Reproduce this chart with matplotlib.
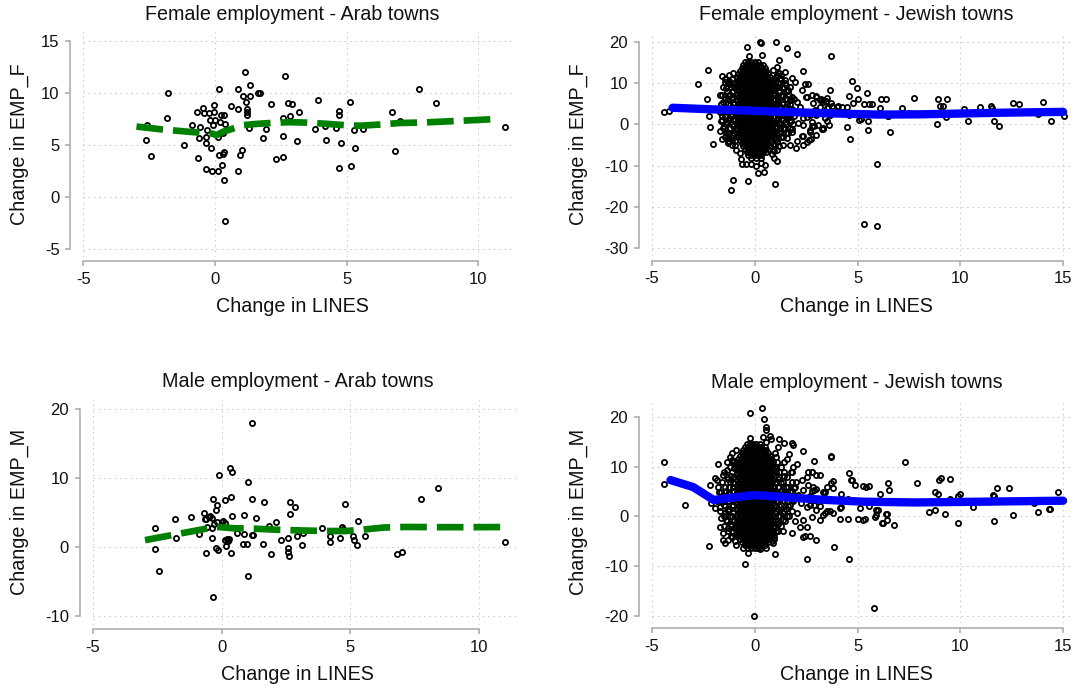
import matplotlib
matplotlib.use("Agg")
import matplotlib.pyplot as plt

plt.rcParams["font.family"] = ["Liberation Sans", "DejaVu Sans"]
plt.rcParams["axes.unicode_minus"] = False

W, H = 1076, 689

# ---- Arab towns: (change in LINES, change in EMP) ----
female_arab = [
    (-2.57, 6.95), (-2.62, 5.47), (-2.42, 3.92), (-1.77, 9.97), (-1.82, 7.65),
    (-1.18, 5.05), (-0.89, 6.95), (-0.68, 8.23), (-0.63, 3.73), (-0.59, 5.63),
    (-0.57, 6.69), (-0.44, 8.58), (-0.43, 8.04), (-0.34, 5.79), (-0.34, 5.21),
    (-0.33, 2.67), (-0.29, 6.43), (-0.23, 8.13), (-0.19, 7.46), (-0.16, 4.69),
    (-0.10, 2.50), (-0.08, 6.95), (-0.03, 8.84), (-0.03, 8.20), (0.01, 7.40),
    (0.10, 5.79), (0.10, 2.50), (0.14, 4.08), (0.15, 10.45), (0.18, 7.20),
    (0.22, 7.85), (0.25, 3.05), (0.29, 6.17), (0.29, 4.18), (0.33, 4.30),
    (0.35, 7.88), (0.35, 1.61), (0.38, 6.98), (0.38, -2.31), (0.62, 8.75),
    (0.86, 8.49), (0.87, 10.45), (0.89, 2.48), (0.96, 3.99), (1.04, 4.50),
    (1.05, 9.71), (1.14, 12.00), (1.18, 9.16), (1.20, 8.50), (1.22, 8.20),
    (1.20, 7.90), (1.30, 6.62), (1.35, 10.77), (1.35, 9.74), (1.65, 9.97),
    (1.70, 9.97), (1.82, 5.72), (1.92, 6.53), (2.11, 8.94), (2.30, 3.63),
    (2.57, 7.65), (2.57, 5.88), (2.59, 3.86), (2.67, 11.70), (2.78, 9.07),
    (2.85, 7.78), (2.92, 8.94), (3.13, 5.43), (3.19, 8.20), (3.81, 6.56),
    (3.92, 9.36), (4.19, 6.85), (4.22, 5.53), (4.61, 6.66), (4.70, 8.30),
    (4.73, 7.91), (4.73, 2.80), (4.80, 5.21), (5.13, 9.13), (5.15, 3.02),
    (5.29, 6.43), (5.32, 4.73), (5.61, 6.56), (6.71, 8.17), (6.84, 4.41),
    (7.03, 7.33), (7.76, 10.45), (8.41, 9.10), (11.03, 6.71),
]
female_arab_fit_x = [-2.98, -2.0, -1.0, -0.4, -0.1, 0.06, 0.3, 0.7, 1.1, 1.5, 2.2,
                     2.8, 3.5, 4.2, 5.0, 5.5, 6.3, 7.0, 8.0, 9.0, 10.0, 10.8]
female_arab_fit_y = [6.78, 6.5, 6.28, 6.15, 6.1, 5.95, 6.27, 6.6, 6.92, 7.02, 7.14,
                     7.2, 7.16, 7.05, 6.9, 6.86, 6.98, 7.12, 7.18, 7.3, 7.42, 7.52]

male_arab = [
    (-2.60, 2.76), (-2.57, -0.34), (-2.43, -3.48), (-1.82, 4.06), (-1.77, 1.35),
    (-1.18, 4.26), (-0.89, 1.79), (-0.69, 4.93), (-0.65, 3.97), (-0.61, -0.97),
    (-0.59, 4.03), (-0.55, 2.90), (-0.50, 4.35), (-0.44, 4.47), (-0.39, 4.17),
    (-0.36, 2.77), (-0.36, 1.21), (-0.35, 6.87), (-0.35, -7.35), (-0.28, 3.30),
    (-0.23, 5.32), (-0.19, 6.05), (-0.19, 3.63), (-0.22, -0.15), (-0.13, -0.53),
    (-0.09, 10.35), (0.00, 3.60), (0.06, 3.73), (0.12, 3.40), (0.14, 6.77),
    (0.15, 1.00), (0.18, 0.10), (0.22, 1.20), (0.25, 0.80), (0.30, 1.10),
    (0.34, 11.37), (0.35, -0.97), (0.36, 7.21), (0.39, 10.79), (0.39, 4.45),
    (0.61, 1.94), (0.85, 4.60), (0.87, 1.79), (0.97, 0.34), (0.84, 0.34),
    (1.02, 9.34), (1.03, -4.26), (1.18, 6.92), (1.19, 17.95), (1.19, 1.69),
    (1.23, 1.65), (1.33, 4.11), (1.62, 0.48), (1.65, 6.53), (1.82, 3.05),
    (1.91, -1.06), (2.11, 3.63), (2.29, 0.97), (2.56, 1.21), (2.56, -0.24),
    (2.59, -0.73), (2.60, -1.31), (2.65, 6.53), (2.65, 4.69), (2.83, 5.76),
    (2.92, 1.55), (2.96, 2.43), (3.10, 0.24), (3.17, 1.94), (3.88, 2.66),
    (4.19, 1.55), (4.20, 0.68), (4.59, 1.35), (4.68, 2.85), (4.70, 2.60),
    (4.77, 6.19), (5.11, 1.55), (5.13, 0.97), (5.27, 0.24), (5.31, 3.73),
    (5.58, 1.60), (6.79, -1.11), (7.00, -0.68), (7.73, 6.97), (8.38, 8.51),
    (11.00, 0.73),
]
male_arab_fit_x = [-2.97, -2.0, -1.0, -0.2, 0.5, 1.0, 2.0, 3.0, 4.0, 4.8, 5.5,
                   6.3, 7.2, 8.5, 10.0, 11.0]
male_arab_fit_y = [0.97, 1.65, 2.35, 2.9, 2.68, 2.68, 2.5, 2.38, 2.3, 2.28, 2.5,
                   2.8, 2.88, 2.85, 2.85, 2.87]

# ---- Jewish towns: packed centre as rows of (EMP change, [LINES changes]) ----
female_jewish_rows = [
    (15.0, [-0.48, -0.32, -0.16, 0.0, 0.16]),
    (14.3, [-0.56, -0.4, -0.24, -0.08, 0.08, 0.24, 0.4]),
    (13.6, [-0.64, -0.48, -0.32, -0.16, 0.0, 0.16, 0.32, 0.48]),
    (12.9, [-0.72, -0.56, -0.4, -0.24, -0.08, 0.08, 0.24, 0.4, 0.56]),
    (12.2, [-0.8, -0.64, -0.48, -0.32, -0.16, 0.0, 0.16, 0.32, 0.48, 0.64]),
    (11.5, [-0.88, -0.72, -0.56, -0.4, -0.24, -0.08, 0.08, 0.24, 0.4, 0.56, 0.72]),
    (10.8, [-0.8, -0.64, -0.48, -0.32, -0.16, 0.0, 0.16, 0.32, 0.48, 0.64, 0.8]),
    (10.1, [-0.88, -0.72, -0.56, -0.4, -0.24, -0.08, 0.08, 0.24, 0.4, 0.56, 0.72, 0.88]),
    (9.4, [-0.8, -0.64, -0.48, -0.32, -0.16, 0.0, 0.16, 0.32, 0.48, 0.64, 0.8]),
    (8.7, [-0.88, -0.72, -0.56, -0.4, -0.24, -0.08, 0.08, 0.24, 0.4, 0.56, 0.72, 0.88]),
    (8.0, [-0.8, -0.64, -0.48, -0.32, -0.16, 0.0, 0.16, 0.32, 0.48, 0.64, 0.8]),
    (7.3, [-0.88, -0.72, -0.56, -0.4, -0.24, -0.08, 0.08, 0.24, 0.4, 0.56, 0.72, 0.88]),
    (6.6, [-0.8, -0.64, -0.48, -0.32, -0.16, 0.0, 0.16, 0.32, 0.48, 0.64, 0.8]),
    (5.9, [-0.88, -0.72, -0.56, -0.4, -0.24, -0.08, 0.08, 0.24, 0.4, 0.56, 0.72, 0.88]),
    (5.2, [-0.8, -0.64, -0.48, -0.32, -0.16, 0.0, 0.16, 0.32, 0.48, 0.64, 0.8]),
    (4.5, [-0.88, -0.72, -0.56, -0.4, -0.24, -0.08, 0.08, 0.24, 0.4, 0.56, 0.72, 0.88]),
    (3.8, [-0.8, -0.64, -0.48, -0.32, -0.16, 0.0, 0.16, 0.32, 0.48, 0.64, 0.8]),
    (3.1, [-0.88, -0.72, -0.56, -0.4, -0.24, -0.08, 0.08, 0.24, 0.4, 0.56, 0.72, 0.88]),
    (2.4, [-0.8, -0.64, -0.48, -0.32, -0.16, 0.0, 0.16, 0.32, 0.48, 0.64, 0.8]),
    (1.7, [-0.88, -0.72, -0.56, -0.4, -0.24, -0.08, 0.08, 0.24, 0.4, 0.56, 0.72, 0.88]),
    (1.0, [-0.8, -0.64, -0.48, -0.32, -0.16, 0.0, 0.16, 0.32, 0.48, 0.64, 0.8]),
    (0.3, [-0.88, -0.72, -0.56, -0.4, -0.24, -0.08, 0.08, 0.24, 0.4, 0.56, 0.72, 0.88]),
    (-0.4, [-0.8, -0.64, -0.48, -0.32, -0.16, 0.0, 0.16, 0.32, 0.48, 0.64, 0.8]),
    (-1.1, [-0.88, -0.72, -0.56, -0.4, -0.24, -0.08, 0.08, 0.24, 0.4, 0.56, 0.72, 0.88]),
    (-1.8, [-0.8, -0.64, -0.48, -0.32, -0.16, 0.0, 0.16, 0.32, 0.48, 0.64, 0.8]),
    (-2.5, [-0.88, -0.72, -0.56, -0.4, -0.24, -0.08, 0.08, 0.24, 0.4, 0.56, 0.72, 0.88]),
    (-3.2, [-0.8, -0.64, -0.48, -0.32, -0.16, 0.0, 0.16, 0.32, 0.48, 0.64, 0.8]),
    (-3.9, [-0.72, -0.56, -0.4, -0.24, -0.08, 0.08, 0.24, 0.4, 0.56, 0.72]),
    (-4.6, [-0.64, -0.48, -0.32, -0.16, 0.0, 0.16, 0.32, 0.48, 0.64]),
    (-5.3, [-0.56, -0.4, -0.24, -0.08, 0.08, 0.24, 0.4, 0.56, 0.72]),
    (-6.0, [-0.48, -0.32, -0.16, 0.0, 0.16, 0.32, 0.48, 0.64]),
    (-6.7, [-0.4, -0.24, -0.08, 0.08, 0.24, 0.4, 0.56]),
    (-7.4, [-0.32, -0.16, 0.0, 0.16, 0.32]),
    (-8.1, [-0.16, 0.08, 0.32]),
    # looser band either side of the packed centre
    (12.0, [-1.25, 1.1]),
    (11.0, [-1.45, -1.1, 1.0, 1.3]),
    (10.0, [-1.3, -1.0, 1.15, 1.45]),
    (9.0, [-1.55, -1.15, 1.05, 1.35, 1.7]),
    (8.0, [-1.35, -1.05, 1.2, 1.5]),
    (7.0, [-1.6, -1.2, 1.0, 1.3, 1.65]),
    (6.0, [-1.45, -1.1, 1.15, 1.55, 1.9]),
    (5.0, [-1.65, -1.3, -1.0, 1.05, 1.35, 1.7]),
    (4.0, [-1.5, -1.15, 1.2, 1.5]),
    (3.0, [-1.7, -1.3, -1.0, 1.05, 1.4, 1.75]),
    (2.0, [-1.45, -1.15, 1.2, 1.55, 1.9]),
    (1.0, [-1.6, -1.25, -0.98, 1.05, 1.35, 1.7]),
    (0.0, [-1.4, -1.1, 1.2, 1.5, 1.85]),
    (-1.0, [-1.55, -1.2, 1.05, 1.35, 1.7]),
    (-2.0, [-1.3, -1.0, 1.2, 1.5]),
    (-3.0, [-1.45, -1.15, 1.05, 1.3]),
    (-4.0, [-1.25, -0.98, 1.1]),
    (-5.0, [-1.1, 1.0]),
]
female_jewish = [
    (-4.43, 2.9), (-4.18, 3.3), (-2.77, 9.8), (-2.27, 13.1), (-2.32, 6.0),
    (-2.22, 2.1), (-2.19, -0.7), (-2.02, -4.7), (-1.32, -4.6), (-1.28, -4.2),
    (-1.08, -13.4), (-1.16, -15.8), (-0.33, -13.8), (0.98, -14.5), (0.18, -11.8),
    (0.46, -11.5), (-0.45, -9.7), (-0.2, -9.5), (0.05, -10.0), (0.3, -9.4),
    (0.5, -9.8), (1.1, -9.0), (1.1, -6.2), (1.06, -4.2), (1.99, -5.7),
    (2.37, -4.9), (2.37, -2.9), (2.64, -3.9), (1.79, -1.2), (2.28, -2.8),
    (2.76, -0.5), (3.25, -1.2), (-0.4, 18.6), (0.25, 20.0), (0.28, 19.7),
    (1.02, 20.0), (1.55, 18.4), (2.04, 17.0), (1.16, 15.5), (0.35, 16.7),
    (-0.3, 16.5), (1.16, 12.3), (2.37, 13.0), (1.79, 11.2), (1.46, 10.8),
    (3.71, 16.5), (2.45, 9.7), (2.57, 9.7), (2.52, 6.7), (3.0, 6.5),
    (3.3, 5.9), (2.75, -3.55), (2.7, -1.5), (2.87, -0.5), (2.54, 1.7),
    (2.7, 2.3), (3.0, 6.8), (3.2, 6.0), (3.45, 5.6), (3.7, 5.2),
    (3.78, 4.5), (3.66, 8.2), (3.4, 1.5), (3.53, 0.7), (3.63, -0.2),
    (3.3, -0.9), (4.03, 4.4), (3.99, 4.3), (4.24, 4.3), (4.48, 4.2),
    (3.67, 2.2), (4.58, 6.95), (4.74, 10.6), (4.99, 8.8), (4.79, 5.2),
    (5.02, 6.1), (5.44, 7.5), (5.32, 5.0), (5.56, 4.8), (5.72, 4.8),
    (4.49, -0.7), (4.64, -3.5), (4.58, 2.3), (5.16, 1.3), (5.49, 0.7),
    (5.52, -1.5), (6.09, 4.0), (6.14, 6.0), (6.38, 6.0), (6.47, 2.1),
    (6.57, -1.9), (5.97, -9.6), (5.31, -24.1), (5.97, -24.7), (7.18, 4.0),
    (7.73, 6.4), (8.89, 6.2), (9.37, 6.1), (9.0, 4.5), (9.17, 4.4),
    (9.3, 1.8), (8.87, 0.15), (10.17, 3.6), (10.38, 0.7), (10.96, 4.2),
    (11.49, 4.5), (11.53, 4.0), (11.66, 0.9), (11.86, -0.3), (12.55, 5.2),
    (12.85, 4.8), (14.0, 5.3), (14.43, 0.7), (15.02, 1.9), (13.8, 2.4),
    (7.5, 2.8), (5.08, 1.0), (6.46, 2.0),
    (1.38, 8.7), (1.63, 8.3), (1.79, 6.7), (2.03, 5.5), (2.2, 4.3),
    (2.49, 6.5), (2.6, 3.06), (2.84, 5.1), (3.0, 2.2), (3.16, 4.3),
    (3.33, 5.5), (3.49, 3.9), (1.95, 3.06), (1.71, 1.8), (1.47, 0.6),
    (1.22, -1.0), (1.79, -1.8), (2.36, -0.2), (2.76, 0.6), (3.08, -0.2),
    (3.33, -1.1), (2.03, -4.0), (2.52, -4.2), (1.06, 5.5), (1.14, 2.2),
    (1.06, -2.6), (0.98, 9.5), (1.22, 11.1), (1.47, 12.7), (1.95, 10.3),
    (2.28, 8.3), (2.76, 7.1), (3.16, 5.9), (3.49, 6.3), (3.57, 4.3),
    (2.92, 3.5), (2.68, -1.8), (2.36, 1.4), (2.11, 0.2), (3.0, -2.6),
    (1.55, -3.4), (1.38, -5.0), (1.71, -5.0),
    (-1.6, 11.8), (-1.45, 10.2), (-1.2, 9.8), (-1.7, 7.2), (-1.25, 7.0),
    (-1.55, 5.3), (-1.2, 4.6), (-1.75, 4.0), (-1.3, 3.7), (-1.0, 3.5),
    (-1.6, 2.0), (-1.25, 1.6), (-1.05, 1.2), (-1.65, 0.9), (-1.5, -0.4),
    (-1.2, -0.8), (-1.7, -1.6), (-1.4, -2.2), (-1.05, -2.6), (-1.3, -3.3),
    (-1.6, -3.5), (-0.95, -4.9), (-0.9, -6.3), (-0.7, -6.9), (-0.65, -8.3),
    (-0.64, -9.5), (1.1, 13.8), (0.9, 13.2), (1.3, 11.9), (1.05, 11.5),
    (1.5, 9.5), (1.2, 9.0), (1.6, 8.0), (1.35, 6.9), (1.75, 5.9),
    (1.15, 5.6), (1.55, 4.8), (1.2, 3.3), (1.8, 3.6), (1.45, 2.0),
    (1.15, 1.6), (1.75, 0.8), (1.5, 0.1), (1.05, 0.2), (1.25, -0.9),
    (1.6, -2.0), (1.1, -2.4), (1.35, -3.2), (1.05, -3.6), (1.2, -5.3),
    (0.95, -6.4), (0.85, -7.2), (0.95, -8.2),
    (-1.05, 12.3), (-1.25, 10.5), (1.05, 10.5), (-1.4, 8.7), (-1.1, 7.8),
    (1.2, 7.8), (-1.3, 6.0), (1.45, 6.0), (-1.05, 5.1), (1.3, 4.2),
    (-1.5, 3.3), (-1.15, 2.4), (1.55, 2.4), (-1.35, 0.6), (1.2, 0.6),
    (-1.05, -0.3), (1.4, -1.2), (-1.25, -2.1), (-1.1, -3.9), (0.9, -4.8),
    (-1.0, 9.0), (-1.1, 6.5), (-0.98, -1.5), (1.0, 7.5), (1.02, -0.9),
]
female_jewish_fit_x = [-4.0, -2.0, 0.0, 2.0, 4.0, 6.0, 8.0, 10.0, 12.0, 15.0]
female_jewish_fit_y = [4.0, 3.6, 3.25, 2.9, 2.6, 2.35, 2.4, 2.6, 2.8, 3.0]

male_jewish_rows = [
    (14.6, [-0.4, -0.24, -0.08, 0.08, 0.24]),
    (14.0, [-0.48, -0.32, -0.16, 0.0, 0.16, 0.32, 0.48]),
    (13.4, [-0.56, -0.4, -0.24, -0.08, 0.08, 0.24, 0.4, 0.56]),
    (12.8, [-0.64, -0.48, -0.32, -0.16, 0.0, 0.16, 0.32, 0.48, 0.64]),
    (12.2, [-0.72, -0.56, -0.4, -0.24, -0.08, 0.08, 0.24, 0.4, 0.56, 0.72]),
    (11.6, [-0.8, -0.64, -0.48, -0.32, -0.16, 0.0, 0.16, 0.32, 0.48, 0.64, 0.8]),
    (11.0, [-0.88, -0.72, -0.56, -0.4, -0.24, -0.08, 0.08, 0.24, 0.4, 0.56, 0.72, 0.88]),
    (10.4, [-0.8, -0.64, -0.48, -0.32, -0.16, 0.0, 0.16, 0.32, 0.48, 0.64, 0.8]),
    (9.8, [-0.88, -0.72, -0.56, -0.4, -0.24, -0.08, 0.08, 0.24, 0.4, 0.56, 0.72, 0.88]),
    (9.2, [-0.8, -0.64, -0.48, -0.32, -0.16, 0.0, 0.16, 0.32, 0.48, 0.64, 0.8]),
    (8.6, [-0.88, -0.72, -0.56, -0.4, -0.24, -0.08, 0.08, 0.24, 0.4, 0.56, 0.72, 0.88]),
    (8.0, [-0.8, -0.64, -0.48, -0.32, -0.16, 0.0, 0.16, 0.32, 0.48, 0.64, 0.8]),
    (7.4, [-0.88, -0.72, -0.56, -0.4, -0.24, -0.08, 0.08, 0.24, 0.4, 0.56, 0.72, 0.88]),
    (6.8, [-0.8, -0.64, -0.48, -0.32, -0.16, 0.0, 0.16, 0.32, 0.48, 0.64, 0.8]),
    (6.2, [-0.88, -0.72, -0.56, -0.4, -0.24, -0.08, 0.08, 0.24, 0.4, 0.56, 0.72, 0.88]),
    (5.6, [-0.8, -0.64, -0.48, -0.32, -0.16, 0.0, 0.16, 0.32, 0.48, 0.64, 0.8]),
    (5.0, [-0.88, -0.72, -0.56, -0.4, -0.24, -0.08, 0.08, 0.24, 0.4, 0.56, 0.72, 0.88]),
    (4.4, [-0.8, -0.64, -0.48, -0.32, -0.16, 0.0, 0.16, 0.32, 0.48, 0.64, 0.8]),
    (3.8, [-0.88, -0.72, -0.56, -0.4, -0.24, -0.08, 0.08, 0.24, 0.4, 0.56, 0.72, 0.88]),
    (3.2, [-0.8, -0.64, -0.48, -0.32, -0.16, 0.0, 0.16, 0.32, 0.48, 0.64, 0.8]),
    (2.6, [-0.88, -0.72, -0.56, -0.4, -0.24, -0.08, 0.08, 0.24, 0.4, 0.56, 0.72, 0.88]),
    (2.0, [-0.8, -0.64, -0.48, -0.32, -0.16, 0.0, 0.16, 0.32, 0.48, 0.64, 0.8]),
    (1.4, [-0.88, -0.72, -0.56, -0.4, -0.24, -0.08, 0.08, 0.24, 0.4, 0.56, 0.72, 0.88]),
    (0.8, [-0.8, -0.64, -0.48, -0.32, -0.16, 0.0, 0.16, 0.32, 0.48, 0.64, 0.8]),
    (0.2, [-0.88, -0.72, -0.56, -0.4, -0.24, -0.08, 0.08, 0.24, 0.4, 0.56, 0.72, 0.88]),
    (-0.4, [-0.8, -0.64, -0.48, -0.32, -0.16, 0.0, 0.16, 0.32, 0.48, 0.64, 0.8]),
    (-1.0, [-0.88, -0.72, -0.56, -0.4, -0.24, -0.08, 0.08, 0.24, 0.4, 0.56, 0.72, 0.88]),
    (-1.6, [-0.8, -0.64, -0.48, -0.32, -0.16, 0.0, 0.16, 0.32, 0.48, 0.64, 0.8]),
    (-2.2, [-0.88, -0.72, -0.56, -0.4, -0.24, -0.08, 0.08, 0.24, 0.4, 0.56, 0.72, 0.88]),
    (-2.8, [-0.8, -0.64, -0.48, -0.32, -0.16, 0.0, 0.16, 0.32, 0.48, 0.64, 0.8]),
    (-3.4, [-0.88, -0.72, -0.56, -0.4, -0.24, -0.08, 0.08, 0.24, 0.4, 0.56, 0.72, 0.88]),
    (-4.0, [-0.8, -0.64, -0.48, -0.32, -0.16, 0.0, 0.16, 0.32, 0.48, 0.64, 0.8]),
    (-4.6, [-0.72, -0.56, -0.4, -0.24, -0.08, 0.08, 0.24, 0.4, 0.56, 0.72]),
    (-5.2, [-0.64, -0.48, -0.32, -0.16, 0.0, 0.16, 0.32, 0.48, 0.64]),
    (-5.8, [-0.48, -0.32, -0.16, 0.0, 0.16, 0.32, 0.48]),
    (-6.4, [-0.32, -0.16, 0.0, 0.16, 0.32]),
    # looser band either side of the packed centre
    (12.0, [-1.2, 1.05]),
    (11.0, [-1.35, -1.05, 1.1, 1.4]),
    (10.0, [-1.2, 1.0, 1.3]),
    (9.0, [-1.5, -1.1, 1.05, 1.4, 1.75]),
    (8.0, [-1.35, -1.0, 1.2, 1.55]),
    (7.0, [-1.6, -1.2, 1.05, 1.35, 1.8]),
    (6.0, [-1.45, -1.05, 1.2, 1.6, 1.95]),
    (5.0, [-1.65, -1.25, 1.1, 1.4, 1.8]),
    (4.0, [-1.4, -1.0, 1.2, 1.55, 1.9]),
    (3.0, [-1.7, -1.3, 1.05, 1.4, 1.85]),
    (2.0, [-1.45, -1.1, 1.2, 1.6]),
    (1.0, [-1.7, -1.3, 1.05, 1.4, 1.8]),
    (0.0, [-1.5, -1.1, 1.25, 1.65]),
    (-1.0, [-1.35, -1.0, 1.1, 1.45]),
    (-2.0, [-1.5, -1.15, 1.0, 1.3]),
    (-3.0, [-1.3, 1.05, 1.35]),
    (-4.0, [-1.15, 0.95]),
    (-5.0, [-0.95, 0.85]),
]
male_jewish = [
    (-4.42, 11.0), (-4.42, 6.5), (-3.4, 2.2), (-0.21, 20.7), (0.37, 21.7),
    (0.45, 19.5), (0.53, 18.0), (0.53, 17.4), (0.76, 16.2), (1.18, 15.5),
    (1.87, 14.4), (2.36, 13.2), (2.86, 11.1), (-1.77, 10.6), (-2.2, 6.4),
    (-1.93, 7.8), (-2.13, 2.6), (-2.22, -6.0), (-1.57, -4.8), (-0.47, -9.6),
    (-0.05, -20.0), (0.97, -7.5), (2.52, -2.1), (2.36, -4.1), (2.44, -3.9),
    (2.71, -4.0), (3.0, -4.8), (2.56, -8.5), (2.69, 2.3), (2.86, 2.3),
    (3.16, 2.1), (2.77, 5.2), (2.86, 5.4), (3.0, 5.6), (2.61, 9.0),
    (2.77, 9.0), (3.16, 8.3), (3.36, 4.6), (3.44, 5.0), (3.69, 12.0),
    (3.49, 1.1), (3.44, 0.6), (3.8, 0.6), (3.79, 5.8), (3.69, 6.8),
    (3.8, 7.1), (3.85, -6.1), (3.16, -0.7), (4.15, -0.6), (4.52, -0.6),
    (4.19, 4.5), (4.19, 1.8), (4.57, 8.7), (4.6, -8.6), (4.68, 7.3),
    (4.88, 6.3), (5.13, 1.6), (5.28, 6.1), (5.43, 6.0), (5.55, 6.2),
    (5.02, -0.6), (5.27, -0.7), (5.35, -0.6), (5.56, 2.1), (5.78, -18.4),
    (5.9, 1.3), (5.9, 0.3), (6.11, 4.4), (6.26, -1.4), (6.43, 0.4),
    (6.48, 6.8), (6.54, 5.3), (6.43, -0.7), (6.79, -1.7), (7.29, 11.0),
    (7.89, 6.8), (8.5, 0.9), (8.75, 1.3), (8.79, 5.0), (8.92, 4.5),
    (8.95, 7.3), (9.05, 7.8), (9.25, 0.4), (9.5, 7.5), (9.5, 3.4),
    (9.87, -1.3), (10.0, 4.5), (9.87, 4.0), (10.6, 1.9), (11.58, 4.3),
    (11.63, 4.0), (11.79, 5.8), (11.63, -0.9), (12.38, 5.8), (12.57, 0.3),
    (13.57, 2.6), (13.76, 0.9), (14.32, 1.5), (14.38, 1.5), (14.77, 5.0),
    (3.73, 12.1), (4.75, 7.4), (4.13, 1.6), (4.52, 3.4), (3.65, 1.1),
    (6.0, 1.3), (6.38, 0.5), (5.84, -0.1), (6.21, -1.4),
    (1.87, 10.0), (1.79, 9.0), (2.03, 10.6), (2.28, 7.3), (2.52, 8.0),
    (2.76, 9.0), (3.0, 8.3), (2.6, 6.3), (2.84, 6.0), (2.36, 5.3),
    (2.11, 4.3), (2.68, 4.0), (3.0, 3.3), (3.33, 5.0), (3.49, 6.0),
    (2.52, 1.9), (3.0, 1.3), (3.33, 0.3), (2.03, 0.6), (2.36, -0.7),
    (2.76, -0.1), (2.2, -2.1), (1.87, 3.3), (2.0, 7.0), (1.9, 5.8),
    (2.25, 2.7), (1.95, -1.0), (1.8, -3.3), (1.55, 11.5), (1.65, 12.5),
    (-0.24, 15.8), (0.41, 15.9), (0.57, 15.0), (0.81, 15.5), (-0.89, 13.3),
    (-1.13, 12.8), (0.97, 12.7), (1.13, 14.0), (1.41, 14.7), (1.79, 14.8),
    (-1.13, 11.3), (-1.37, 9.4), (-1.54, 8.3), (-1.86, 7.3), (-1.78, 6.0),
    (-1.54, 4.0), (-1.7, 1.95), (-1.94, 1.6), (-1.7, -2.1), (-1.62, -0.4),
    (-1.54, -3.4), (-1.29, -4.8), (-1.13, -4.1), (-1.45, -5.4), (-0.89, -5.8),
    (-0.56, -6.4), (-0.32, -7.3), (0.24, -6.6), (0.57, -6.4), (0.89, -5.4),
    (-1.75, 5.0), (-1.85, 3.0),
    (-1.0, 9.7), (1.05, 9.7), (1.2, 9.0), (-1.15, 8.2), (1.0, 8.2),
    (1.4, 8.2), (-1.3, 7.5), (1.15, 7.5), (-1.05, 6.7), (1.0, 6.7),
    (1.3, 6.7), (-1.25, 6.0), (1.15, 6.0), (1.5, 6.0), (-1.4, 5.2),
    (-1.05, 5.2), (1.0, 5.2), (1.3, 5.2), (1.7, 5.2), (-1.25, 4.5),
    (1.15, 4.5), (1.5, 4.5), (-1.4, 3.7), (-1.05, 3.7), (1.0, 3.7),
    (1.3, 3.7), (1.75, 3.7), (-1.25, 3.0), (1.15, 3.0), (1.55, 3.0),
    (-1.5, 2.2), (-1.05, 2.2), (1.0, 2.2), (1.3, 2.2), (1.7, 2.2),
    (-1.25, 1.5), (1.15, 1.5), (1.5, 1.5), (-1.45, 0.7), (-1.05, 0.7),
    (1.0, 0.7), (1.35, 0.7), (-1.2, 0.0), (1.15, 0.0), (1.55, 0.0),
    (-1.4, -0.8), (-1.0, -0.8), (1.0, -0.8), (1.35, -0.8), (-1.15, -1.5),
    (1.15, -1.5), (-1.3, -2.3), (-1.0, -2.3), (1.0, -2.3), (-1.1, -3.0),
    (1.15, -3.0), (-0.95, -3.8), (0.95, -4.5), (-1.0, 11.2),
]
male_jewish_fit_x = [-4.1, -3.0, -2.0, -1.0, 0.0, 1.0, 2.0, 3.5, 5.3, 7.8, 11.0, 15.0]
male_jewish_fit_y = [7.3, 5.9, 3.3, 3.8, 4.3, 4.0, 3.7, 3.3, 2.95, 2.8, 2.95, 3.15]


def unpack(points, rows=()):
    xs = [p[0] for p in points]
    ys = [p[1] for p in points]
    for y, row in rows:
        xs += row
        ys += [y] * len(row)
    return xs, ys


fig = plt.figure(figsize=(W / 100, H / 100), dpi=100)
GRAY = "#a8a8a8"


def add_panel(box, xlim, ylim, xticks, yticks):
    left, top, right, bottom = box
    ax = fig.add_axes([left / W, 1 - bottom / H, (right - left) / W, (bottom - top) / H])
    ax.set_xlim(*xlim)
    ax.set_ylim(*ylim)
    ax.set_xticks(xticks)
    ax.set_yticks(yticks)
    ax.grid(True, color="#c4c4c4", linestyle=(0, (1.2, 3.6)), linewidth=0.8)
    ax.set_axisbelow(True)
    for side in ("top", "right"):
        ax.spines[side].set_visible(False)
    ax.spines["left"].set_position(("outward", 9.3))
    ax.spines["bottom"].set_position(("outward", 3.3))
    ax.spines["left"].set_bounds(yticks[0], yticks[-1])
    ax.spines["bottom"].set_bounds(xticks[0], xticks[-1])
    for side in ("left", "bottom"):
        ax.spines[side].set_color(GRAY)
        ax.spines[side].set_linewidth(1.1)
    ax.tick_params(length=3.3, width=1.1, color=GRAY, labelsize=12,
                   labelcolor="#111111", pad=4.5)
    return ax


def scatter(ax, xs, ys):
    ax.plot(xs, ys, "o", linestyle="none", ms=3.7, mfc="none", mec="black",
            mew=1.3, zorder=2, clip_on=False)


def caption(x, y, s, rot=0):
    fig.text(x / W, 1 - y / H, s, ha="center", va="center", fontsize=14.2,
             rotation=rot, color="#111111")


green_dash = dict(color="#008000", lw=4.8, linestyle=(0, (4.0, 1.5)),
                  dash_capstyle="butt", zorder=3)
blue_line = dict(color="#0000ff", lw=6.0, solid_capstyle="round", zorder=3)

# Female employment - Arab towns
ax = add_panel((83.3, 32.3, 513.8, 256.7), (-5, 11.35), (-5.77, 15.87),
               [-5, 0, 5, 10], [-5, 0, 5, 10, 15])
scatter(ax, *unpack(female_arab))
ax.plot(female_arab_fit_x, female_arab_fit_y, **green_dash)
caption(292, 15, "Female employment - Arab towns")
caption(292, 306.7, "Change in LINES")
caption(19.7, 144.5, "Change in EMP_F", 90)

# Female employment - Jewish towns
ax = add_panel((652, 32.6, 1074, 256.0), (-5, 15.53), (-31.9, 22.2),
               [-5, 0, 5, 10, 15], [-30, -20, -10, 0, 10, 20])
scatter(ax, *unpack(female_jewish, female_jewish_rows))
ax.plot(female_jewish_fit_x, female_jewish_fit_y, **blue_line)
caption(856.5, 15, "Female employment - Jewish towns")
caption(856.5, 306.7, "Change in LINES")
caption(578.4, 144.3, "Change in EMP_F", 90)

# Male employment - Arab towns
ax = add_panel((92.7, 400, 516.0, 624.7), (-5, 11.42), (-11.3, 21.3),
               [-5, 0, 5, 10], [-10, 0, 10, 20])
scatter(ax, *unpack(male_arab))
ax.plot(male_arab_fit_x, male_arab_fit_y, **green_dash)
caption(297.9, 381.7, "Male employment - Arab towns")
caption(297.9, 674, "Change in LINES")
caption(19.5, 512.3, "Change in EMP_M", 90)

# Male employment - Jewish towns
ax = add_panel((652, 400, 1074, 623.3), (-5, 15.53), (-21.5, 23.4),
               [-5, 0, 5, 10, 15], [-20, -10, 0, 10, 20])
scatter(ax, *unpack(male_jewish, male_jewish_rows))
ax.plot(male_jewish_fit_x, male_jewish_fit_y, **blue_line)
caption(856.5, 382, "Male employment - Jewish towns")
caption(856.5, 674, "Change in LINES")
caption(578.4, 511.7, "Change in EMP_M", 90)

fig.savefig("out.png", dpi=100)
